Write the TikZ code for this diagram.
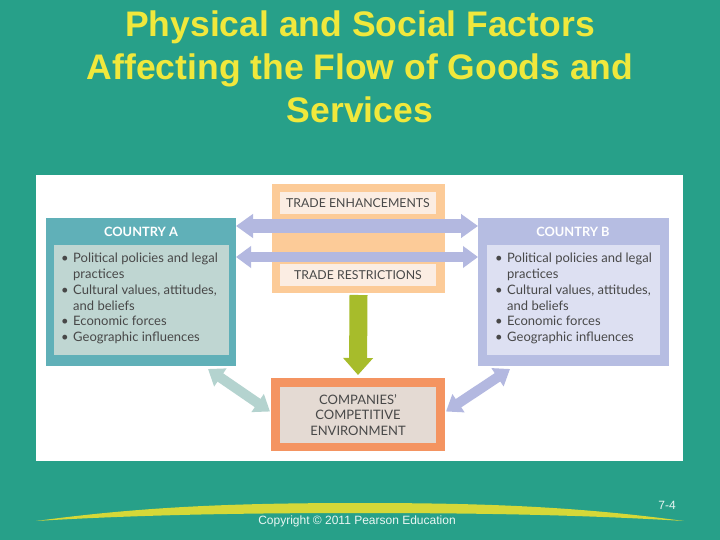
\documentclass[tikz,border=0pt]{standalone}
\usepackage{fontspec}
\setmainfont{Liberation Sans}
\newfontfamily\diagfont{Lato}
\usepackage{xcolor}
\usepackage{tikz}
\usetikzlibrary{arrows.meta, positioning, calc}

\definecolor{slidebg}{RGB}{39,160,137}
\definecolor{titleyel}{RGB}{240,232,60}
\definecolor{tealout}{RGB}{96,176,184}
\definecolor{tealin}{RGB}{191,214,210}
\definecolor{peach}{RGB}{252,203,152}
\definecolor{peachin}{RGB}{251,237,227}
\definecolor{lavout}{RGB}{182,189,226}
\definecolor{lavin}{RGB}{221,224,242}
\definecolor{lavarrow}{RGB}{179,184,224}
\definecolor{leaf}{RGB}{167,188,43}
\definecolor{coral}{RGB}{244,148,97}
\definecolor{coralin}{RGB}{228,218,211}
\definecolor{mint}{RGB}{180,211,207}
\definecolor{swoosh}{RGB}{213,216,56}
\definecolor{txtgrey}{RGB}{72,72,72}

\newcommand{\bul}[1]{\makebox[12pt][l]{\textbullet}#1}
\newcommand{\cont}[1]{\hspace*{12pt}#1}

\begin{document}
\begin{tikzpicture}[x=1pt, y=-1pt,
    panel/.style={inner sep=0pt, outer sep=0pt},
    listtext/.style={font=\diagfont\fontsize{13}{15.8}\selectfont, align=left, inner sep=0pt, text=txtgrey},
    caps/.style={font=\diagfont\fontsize{12.3}{15.5}\selectfont, align=center, text=txtgrey},
    head/.style={font=\diagfont\bfseries\fontsize{12.8}{14}\selectfont, text=white, inner sep=0pt}]
    \fill[slidebg] (0,0) rectangle (720,540);
    \useasboundingbox (0,0) rectangle (720,540);

    % Titolo
    \node[font=\bfseries\fontsize{35.5}{43}\selectfont, text=titleyel, align=center, anchor=north, inner sep=0pt] (title) at (360,11)
        {Physical and Social Factors\\Affecting the Flow of Goods and\\Services};

    % Pannello bianco
    \fill[white] (36,175) rectangle (683,461);

    % Paesi
    \node[panel, fill=tealout, minimum width=190pt, minimum height=148pt] (boxA) at (141,292) {};
    \node[panel, fill=tealin, minimum width=175pt, minimum height=110pt] (innerA) at (141.5,300) {};
    \node[head] (headA) at (141,232) {COUNTRY A};
    \node[listtext, anchor=north west] (listA) at (61,253)
        {\bul{Political policies and legal}\\\cont{practices}\\\bul{Cultural values, attitudes,}\\\cont{and beliefs}\\\bul{Economic forces}\\\bul{Geographic influences}};

    \node[panel, fill=lavout, minimum width=191pt, minimum height=148pt] (boxB) at (573.5,292) {};
    \node[panel, fill=lavin, minimum width=173pt, minimum height=110pt] (innerB) at (573.5,300) {};
    \node[head] (headB) at (573,232) {COUNTRY B};
    \node[listtext, anchor=north west] (listB) at (495,253)
        {\bul{Political policies and legal}\\\cont{practices}\\\bul{Cultural values, attitudes,}\\\cont{and beliefs}\\\bul{Economic forces}\\\bul{Geographic influences}};

    % Commercio
    \node[panel, fill=peach, minimum width=173pt, minimum height=109pt] (trade) at (358.5,238.5) {};
    \node[panel, caps, fill=peachin, minimum width=156pt, minimum height=22pt] (enh) at (358,203.5) {TRADE ENHANCEMENTS};
    \node[panel, caps, fill=peachin, minimum width=156pt, minimum height=22pt] (restr) at (358,275) {TRADE RESTRICTIONS};

    % Ambiente competitivo
    \node[panel, fill=coral, minimum width=174pt, minimum height=73pt] (comp) at (358,414.5) {};
    \node[panel, caps, font=\diagfont\fontsize{13}{15.5}\selectfont, fill=coralin, minimum width=156pt, minimum height=56pt] (compin) at (358,415)
        {COMPANIES’\\COMPETITIVE\\ENVIRONMENT};

    % Frecce doppie tra i paesi
    \foreach \dy/\lw/\hw/\hl in {8/13/23/17, 39/10/21/15} {
        \draw[lavarrow, line width=\lw pt, {Triangle[length=\hl pt,width=\hw pt]}-{Triangle[length=\hl pt,width=\hw pt]}]
            ([yshift=-\dy pt]boxA.north east) -- ([yshift=-\dy pt]boxB.north west);
    }

    % Freccia verso le imprese
    \draw[leaf, line width=18pt, -{Triangle[length=17pt,width=29pt]}] ([yshift=-2pt]trade.south) -- ([yshift=3pt]comp.north);

    % Frecce diagonali
    \draw[mint, line width=10pt, {Triangle[length=15pt,width=21pt]}-{Triangle[length=15pt,width=21pt]}]
        ([shift={(-28,3)}]boxA.south east) -- ([shift={(-1,-3)}]comp.west);
    \draw[lavarrow, line width=10pt, {Triangle[length=15pt,width=21pt]}-{Triangle[length=15pt,width=21pt]}]
        ([shift={(32,3)}]boxB.south west) -- ([shift={(1,-3)}]comp.east);

    % Piede della pagina
    \fill[swoosh] (36,521) .. controls (140,507) and (230,503) .. (360,503)
        .. controls (490,503) and (580,507) .. (684,521)
        .. controls (570,514) and (450,513) .. (360,513)
        .. controls (270,513) and (150,514) .. (36,521) -- cycle;
    \node[font=\fontsize{12}{14}\selectfont, text=white!90!slidebg] (copy) at (357,521) {Copyright \textcopyright{} 2011 Pearson Education};
    \node[font=\fontsize{12}{14}\selectfont, text=white!90!slidebg] (pageno) at (667,505) {7-4};
\end{tikzpicture}
\end{document}
